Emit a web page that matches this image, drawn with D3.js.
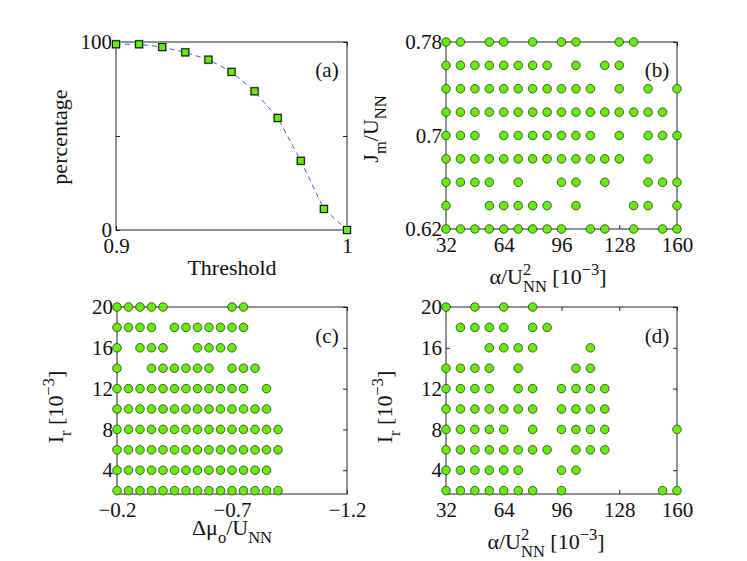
<!DOCTYPE html>
<html>
<head>
<meta charset="utf-8">
<script src="https://cdn.jsdelivr.net/npm/d3@7"></script>
<style>
  body { margin: 0; background: #fff; }
  text { font-family: "Liberation Serif", "Times New Roman", serif; fill: #111; }
</style>
</head>
<body>
<div id="chart"></div>
<script>
// ---- data ----
// (a) percentage vs threshold
var thresholds = [0.90, 0.91, 0.92, 0.93, 0.94, 0.95, 0.96, 0.97, 0.98, 0.99, 1.00];
var percentages = [98.8, 98.8, 97.3, 94.5, 90.6, 84.1, 73.8, 59.6, 36.8, 11.2, 0];
var aXTicks = [0.9, 1];
var aXTickLabels = ["0.9", "1"];
var aYTicks = [0, 50, 100];
var aYTickLabels = ["0", "", "100"];

// (b) alpha/U^2 [1e-3] present for each J_m/U row
var bJm = [0.78, 0.76, 0.74, 0.72, 0.70, 0.68, 0.66, 0.64, 0.62];
var bAlphaRows = [
    [32, 40, 56, 64, 80, 96, 104, 128, 136],
    [32, 40, 48, 56, 64, 72, 80, 88, 104, 120, 128],
    [32, 40, 48, 56, 64, 72, 80, 88, 96, 104, 112, 128, 144, 160],
    [32, 40, 48, 56, 64, 72, 80, 88, 96, 104, 112, 120, 128, 136, 144, 152],
    [32, 40, 48, 64, 72, 80, 88, 96, 104, 112, 128, 144, 152, 160],
    [32, 40, 48, 56, 64, 72, 80, 88, 96, 104, 112, 120, 128, 144],
    [32, 40, 48, 56, 72, 96, 104, 120, 144, 152, 160],
    [32, 56, 64, 72, 80, 88, 104, 136, 144, 160],
    [32, 40, 48, 56, 64, 72, 80, 88, 96, 112, 120, 136, 152, 160]
];
var alphaTicks = [32, 64, 96, 128, 160];
var bYTicks = [0.62, 0.70, 0.78];
var bYTickLabels = ["0.62", "0.7", "0.78"];

// (c) delta mu / U present for each I_r row
var irRows = [20, 18, 16, 14, 12, 10, 8, 6, 4, 2];
var cMuRows = [
    [-0.2, -0.25, -0.3, -0.35, -0.4, -0.7, -0.75],
    [-0.2, -0.25, -0.3, -0.35, -0.45, -0.5, -0.55, -0.6, -0.65, -0.7, -0.75],
    [-0.2, -0.3, -0.35, -0.4, -0.55, -0.6, -0.65, -0.7],
    [-0.2, -0.35, -0.4, -0.45, -0.5, -0.55, -0.6, -0.7, -0.75, -0.8],
    [-0.2, -0.25, -0.3, -0.35, -0.4, -0.45, -0.5, -0.55, -0.6, -0.65, -0.7, -0.75, -0.85],
    [-0.2, -0.25, -0.3, -0.35, -0.4, -0.45, -0.5, -0.55, -0.6, -0.65, -0.7, -0.75, -0.8, -0.85],
    [-0.2, -0.25, -0.3, -0.35, -0.4, -0.45, -0.5, -0.55, -0.6, -0.65, -0.7, -0.75, -0.8, -0.85, -0.9],
    [-0.2, -0.25, -0.3, -0.35, -0.4, -0.45, -0.5, -0.55, -0.6, -0.65, -0.7, -0.75, -0.8, -0.85, -0.9],
    [-0.2, -0.25, -0.3, -0.35, -0.4, -0.45, -0.5, -0.55, -0.6, -0.65, -0.7, -0.75, -0.8, -0.85],
    [-0.2, -0.25, -0.3, -0.35, -0.4, -0.45, -0.5, -0.55, -0.6, -0.65, -0.7, -0.75, -0.8, -0.85, -0.9]
];
var cXTicks = [-0.2, -0.7, -1.2];
var cXTickLabels = ["\u22120.2", "\u22120.7", "\u22121.2"];
var irTicks = [4, 8, 12, 16, 20];

// (d) alpha/U^2 [1e-3] present for each I_r row
var dAlphaRows = [
    [32, 48, 64, 80],
    [40, 48, 56, 64, 80, 88],
    [56, 64, 72, 80, 112],
    [32, 40, 48, 56, 72, 104, 112],
    [32, 40, 48, 56, 72, 80, 96, 104, 112, 120],
    [32, 40, 48, 56, 64, 72, 80, 96, 104, 112, 120],
    [32, 40, 48, 56, 64, 80, 96, 104, 112, 120, 160],
    [32, 40, 48, 56, 64, 72, 80, 88, 104, 112, 120],
    [32, 40, 48, 56, 64, 72, 96, 104],
    [32, 40, 48, 56, 64, 72, 80, 96, 152, 160]
];

// ---- drawing ----
var width = 747, height = 561;
var fontSize = 21, labelSize = 22;
var green = "#66ee00";

var svg = d3.select("#chart").append("svg")
    .attr("xmlns", "http://www.w3.org/2000/svg")
    .attr("width", width)
    .attr("height", height);

// flatten rows into point list
function toPoints(yValues, rows) {
    var pts = [];
    rows.forEach(function (row, i) {
        row.forEach(function (v) { pts.push({x: v, y: yValues[i]}); });
    });
    return pts;
}

// text with sub/superscripts, parts = [[text, "sub"|"sup"|"", dx]]
function richText(sel, parts, size) {
    var off = 0;
    parts.forEach(function (p) {
        var target = p[1] === "sub" ? size * 0.38 : (p[1] === "sup" ? -size * 0.42 : 0);
        var t = sel.append("tspan")
            .attr("dy", target - off)
            .attr("font-size", p[1] ? size * 0.75 : size)
            .text(p[0]);
        if (p[2]) t.attr("dx", p[2]);
        off = target;
    });
}

function drawFrame(x, y, xTicks, xLabels, yTicks, yLabels) {
    var g = svg.append("g");
    var x0 = Math.min(x.range()[0], x.range()[1]), x1 = Math.max(x.range()[0], x.range()[1]);
    var y0 = y.range()[1], y1 = y.range()[0];

    g.append("rect")
        .attr("x", x0).attr("y", y0)
        .attr("width", x1 - x0).attr("height", y1 - y0)
        .attr("fill", "none").attr("stroke", "#222").attr("stroke-width", 1);

    var bottom = g.append("g").attr("transform", "translate(0," + y1 + ")")
        .call(d3.axisBottom(x).tickValues(xTicks).tickSizeInner(-4).tickSizeOuter(0).tickPadding(8)
            .tickFormat(function (d, i) { return xLabels[i]; }));
    var top = g.append("g").attr("transform", "translate(0," + y0 + ")")
        .call(d3.axisTop(x).tickValues(xTicks).tickSizeInner(-4).tickSizeOuter(0).tickFormat(""));
    var left = g.append("g").attr("transform", "translate(" + x0 + ",0)")
        .call(d3.axisLeft(y).tickValues(yTicks).tickSizeInner(-4).tickSizeOuter(0).tickPadding(4)
            .tickFormat(function (d, i) { return yLabels[i]; }));
    var right = g.append("g").attr("transform", "translate(" + x1 + ",0)")
        .call(d3.axisRight(y).tickValues(yTicks).tickSizeInner(-4).tickSizeOuter(0).tickFormat(""));

    [bottom, top, left, right].forEach(function (a) {
        a.select(".domain").remove();
        a.selectAll(".tick line").attr("stroke", "#222");
        a.selectAll("text")
            .attr("font-family", "Liberation Serif, Times New Roman, serif")
            .attr("font-size", fontSize)
            .attr("fill", "#111");
    });
    return g;
}

function drawCircles(x, y, pts) {
    svg.append("g").selectAll("circle")
        .data(pts)
        .enter()
        .append("circle")
        .attr("cx", function (d) { return x(d.x); })
        .attr("cy", function (d) { return y(d.y); })
        .attr("r", 4.3)
        .attr("fill", green)
        .attr("stroke", "#333")
        .attr("stroke-width", 0.8);
}

function panelTag(txt, px, py) {
    svg.append("text").attr("x", px).attr("y", py)
        .attr("text-anchor", "middle").attr("font-size", fontSize).text(txt);
}

function yTitle(parts, px, py) {
    var t = svg.append("text")
        .attr("transform", "translate(" + px + "," + py + ") rotate(-90)")
        .attr("text-anchor", "middle")
        .attr("font-size", labelSize);
    richText(t, parts, labelSize);
}

function xTitle(parts, px, py) {
    var t = svg.append("text")
        .attr("x", px).attr("y", py)
        .attr("text-anchor", "middle")
        .attr("font-size", labelSize);
    richText(t, parts, labelSize);
}

var sub = labelSize * 0.75;
var alphaLabel = [["\u03b1/U", ""], ["2", "sup"], ["NN", "sub", -sub * 0.5], [" [10", ""], ["\u22123", "sup"], ["]", ""]];
var irLabel = [["I", ""], ["r", "sub"], [" [10", ""], ["\u22123", "sup"], ["]", ""]];

// panel (a)
var xa = d3.scaleLinear().domain([0.9, 1]).range([116, 347]);
var ya = d3.scaleLinear().domain([0, 100]).range([230, 42]);
drawFrame(xa, ya, aXTicks, aXTickLabels, aYTicks, aYTickLabels);

var aData = thresholds.map(function (t, i) { return {x: t, y: percentages[i]}; });
svg.append("path")
    .datum(aData)
    .attr("fill", "none")
    .attr("stroke", "#3060ff")
    .attr("stroke-width", 1)
    .attr("stroke-dasharray", "5,4")
    .attr("d", d3.line().x(function (d) { return xa(d.x); }).y(function (d) { return ya(d.y); }));

var sq = svg.append("g").selectAll("g")
    .data(aData)
    .enter()
    .append("g")
    .attr("transform", function (d) { return "translate(" + xa(d.x) + "," + ya(d.y) + ")"; });
sq.append("rect").attr("x", -4.5).attr("y", -4.5).attr("width", 9).attr("height", 9).attr("fill", "#a0a0a0");
sq.append("rect").attr("x", -3.5).attr("y", -3.5).attr("width", 7).attr("height", 7)
    .attr("fill", green).attr("stroke", "#111").attr("stroke-width", 1);

panelTag("(a)", 327, 77);
yTitle([["percentage", ""]], 67, 137);
xTitle([["Threshold", ""]], 232, 275);

// panel (b)
var xb = d3.scaleLinear().domain([32, 160]).range([446, 677]);
var yb = d3.scaleLinear().domain([0.62, 0.78]).range([229, 42]);
drawFrame(xb, yb, alphaTicks, alphaTicks.map(String), bYTicks, bYTickLabels);
drawCircles(xb, yb, toPoints(bJm, bAlphaRows));
panelTag("(b)", 657, 77);
yTitle([["J", ""], ["m", "sub"], ["/U", ""], ["NN", "sub"]], 378, 129);
xTitle(alphaLabel, 548, 284);

// panel (c)
var xc = d3.scaleLinear().domain([-0.2, -1.2]).range([117, 347]);
var yc = d3.scaleLinear().domain([1.67, 20]).range([494, 307]);
drawFrame(xc, yc, cXTicks, cXTickLabels, irTicks, irTicks.map(String));
drawCircles(xc, yc, toPoints(irRows, cMuRows));
panelTag("(c)", 327, 343);
yTitle(irLabel, 63, 407);
xTitle([["\u0394\u03bc", ""], ["o", "sub"], ["/U", ""], ["NN", "sub"]], 232, 535);

// panel (d)
var xd = d3.scaleLinear().domain([32, 160]).range([446, 677]);
var yd = d3.scaleLinear().domain([1.67, 20]).range([494, 307]);
drawFrame(xd, yd, alphaTicks, alphaTicks.map(String), irTicks, irTicks.map(String));
drawCircles(xd, yd, toPoints(irRows, dAlphaRows));
panelTag("(d)", 657, 343);
yTitle(irLabel, 392, 407);
xTitle(alphaLabel, 546, 549);
</script>
</body>
</html>
